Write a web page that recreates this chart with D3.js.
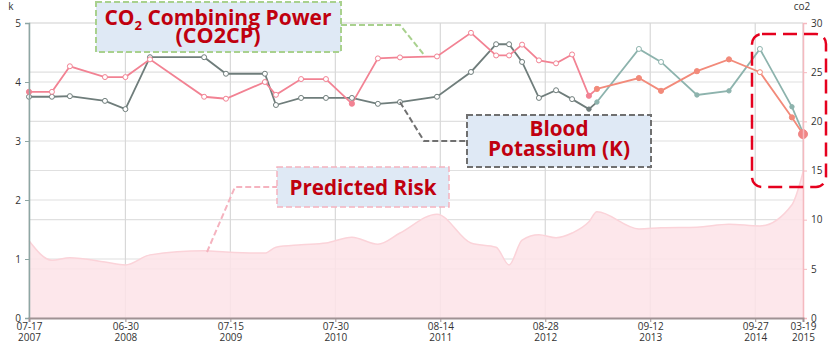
<!DOCTYPE html>
<html>
<head>
<meta charset="utf-8">
<script src="https://cdn.jsdelivr.net/npm/d3@7"></script>
<style>
  body { margin: 0; background: #fff; }
  svg { display: block; font-family: 'Open Sans', 'Noto Sans', sans-serif; }
</style>
</head>
<body>
<svg id="chart" width="830" height="344"></svg>
<script>
// DATA

var dates = ["2007-07-17","2007-10-08","2007-12-12","2008-04-17","2008-06-30","2008-09-27",
  "2009-04-11","2009-06-29","2009-11-17","2009-12-27","2010-03-28","2010-06-26","2010-09-28",
  "2010-12-31","2011-03-21","2011-08-02","2011-12-03","2012-03-03","2012-04-19","2012-06-05",
  "2012-08-05","2012-10-06","2012-12-03","2013-02-02","2013-03-03","2013-08-02","2013-10-21",
  "2014-02-28","2014-06-24","2014-10-14","2015-02-07","2015-03-19"];

var kValues = [3.75,3.75,3.76,3.68,3.54,4.42,4.42,4.14,4.14,3.61,3.73,3.73,3.73,3.63,3.66,3.75,
  4.17,4.64,4.64,4.34,3.73,3.86,3.71,3.54,3.66,4.56,4.34,3.78,3.85,4.56,3.58,3.14];

var co2Values = [23.0,23.0,25.6,24.5,24.5,26.3,22.5,22.3,24.0,22.7,24.3,24.3,21.8,26.4,26.5,26.6,
  29.0,26.7,26.7,27.8,26.2,25.9,26.8,22.6,23.3,24.4,23.1,25.1,26.3,25.0,20.4,18.7];

// predicted risk, drawn against the k axis
var riskValues = [1.31,0.98,1.02,0.95,0.90,1.07,1.14,1.12,1.10,1.20,1.24,1.27,1.37,1.25,1.44,1.76,
  1.27,1.20,0.90,1.32,1.41,1.36,1.44,1.63,1.80,1.51,1.53,1.54,1.59,1.56,1.92,2.47];

var tickDates = ["2007-07-17","2008-06-30","2009-07-15","2010-07-30","2011-08-14",
  "2012-08-28","2013-09-12","2014-09-27","2015-03-19"];

var kTicks = [0,1,2,3,4,5];
var co2Ticks = [0,5,10,15,20,25,30];

// SETUP

var parse = d3.utcParse("%Y-%m-%d");
var svg = d3.select("#chart");

var plotLeft = 29, plotRight = 803, plotTop = 23, plotBottom = 318;
var splitIndex = 24; // colours change from here on

var x = d3.scaleUtc()
  .domain([parse(dates[0]), parse(dates[dates.length - 1])])
  .range([plotLeft, plotRight]);
var yK = d3.scaleLinear().domain([0, 5]).range([plotBottom, plotTop]);
var yCo2 = d3.scaleLinear().domain([0, 30]).range([plotBottom, plotTop]);

var points = dates.map(function(d, i){
  return { date: parse(d), k: kValues[i], co2: co2Values[i], risk: riskValues[i], i: i };
});

// GRID

var grid = svg.append("g");
kTicks.forEach(function(t){
  grid.append("line").attr("x1", plotLeft).attr("x2", plotRight)
    .attr("y1", yK(t)).attr("y2", yK(t))
    .attr("stroke", "#e0e0e0").attr("stroke-width", 1.2);
});
co2Ticks.forEach(function(t){
  grid.append("line").attr("x1", plotLeft).attr("x2", plotRight)
    .attr("y1", yCo2(t)).attr("y2", yCo2(t))
    .attr("stroke", "#e0e0e0").attr("stroke-width", 1.2);
});
tickDates.forEach(function(t){
  grid.append("line").attr("x1", x(parse(t))).attr("x2", x(parse(t)))
    .attr("y1", plotTop).attr("y2", plotBottom)
    .attr("stroke", "#d8d8d8").attr("stroke-width", 1.2);
});

// RISK AREA

var area = d3.area()
  .x(function(d){ return x(d.date); })
  .y0(plotBottom)
  .y1(function(d){ return yK(d.risk); })
  .curve(d3.curveMonotoneX);

svg.append("path")
  .datum(points)
  .attr("d", area)
  .attr("fill", "#fde3e8")
  .attr("fill-opacity", 0.85);

svg.append("path")
  .datum(points)
  .attr("d", area.lineY1())
  .attr("fill", "none")
  .attr("stroke", "#fbd3d9")
  .attr("stroke-width", 1.5);

// LINES

var kLine = d3.line().x(function(d){ return x(d.date); }).y(function(d){ return yK(d.k); });
var co2Line = d3.line().x(function(d){ return x(d.date); }).y(function(d){ return yCo2(d.co2); });

var early = points.slice(0, splitIndex + 1);
var late = points.slice(splitIndex);

svg.append("path").datum(early).attr("d", kLine)
  .attr("fill", "none").attr("stroke", "#6f7d7b").attr("stroke-width", 1.8);
svg.append("path").datum(late).attr("d", kLine)
  .attr("fill", "none").attr("stroke", "#8db3ad").attr("stroke-width", 1.8);
svg.append("path").datum(early).attr("d", co2Line)
  .attr("fill", "none").attr("stroke", "#f28293").attr("stroke-width", 1.8);
svg.append("path").datum(late).attr("d", co2Line)
  .attr("fill", "none").attr("stroke", "#f28a7a").attr("stroke-width", 1.8);

// MARKERS

var co2Filled = [0, 12, 23, 24, 25, 26, 27, 28, 30];
var kFilled = [23, 24, 27, 28, 30];

var kColor = function(i){ return i < splitIndex ? "#6f7d7b" : "#8db3ad"; };
var co2Color = function(i){ return i < splitIndex ? "#f28293" : "#f28a7a"; };

svg.append("g").selectAll("circle")
  .data(points.slice(0, points.length - 1))
  .enter()
  .append("circle")
  .attr("cx", function(d){ return x(d.date); })
  .attr("cy", function(d){ return yK(d.k); })
  .attr("r", function(d){ return kFilled.indexOf(d.i) >= 0 ? 2.2 : 2.5; })
  .attr("fill", function(d){ return kFilled.indexOf(d.i) >= 0 ? kColor(d.i) : "#fff"; })
  .attr("stroke", function(d){ return kColor(d.i); })
  .attr("stroke-width", 1);

svg.append("g").selectAll("circle")
  .data(points)
  .enter()
  .append("circle")
  .attr("cx", function(d){ return x(d.date); })
  .attr("cy", function(d){ return yCo2(d.co2); })
  .attr("r", function(d){
    if (d.i === points.length - 1) return 4.5;
    return co2Filled.indexOf(d.i) >= 0 ? 2.6 : 2.5;
  })
  .attr("fill", function(d){
    if (d.i === points.length - 1) return "#f08585";
    return co2Filled.indexOf(d.i) >= 0 ? co2Color(d.i) : "#fff";
  })
  .attr("stroke", function(d){ return d.i === points.length - 1 ? "#f08585" : co2Color(d.i); })
  .attr("stroke-width", 1);

// AXES

var leftAxis = svg.append("g")
  .attr("transform", "translate(" + plotLeft + ",0)")
  .call(d3.axisLeft(yK).tickValues(kTicks).tickSize(4).tickPadding(4).tickFormat(d3.format("d")));
leftAxis.select(".domain").attr("stroke", "#8ea6a4").attr("stroke-width", 1.5);
leftAxis.selectAll(".tick line").attr("stroke", "#8ea6a4");

var rightAxis = svg.append("g")
  .attr("transform", "translate(" + plotRight + ",0)")
  .call(d3.axisRight(yCo2).tickValues(co2Ticks).tickSize(4).tickPadding(4).tickFormat(d3.format("d")));
rightAxis.select(".domain").attr("stroke", "#f5b9bf").attr("stroke-width", 1.5);
rightAxis.selectAll(".tick line").attr("stroke", "#f5b9bf");

var bottomAxis = svg.append("g")
  .attr("transform", "translate(0," + plotBottom + ")")
  .call(d3.axisBottom(x).tickValues(tickDates.map(parse)).tickSize(4).tickPadding(1).tickFormat(""));
bottomAxis.select(".domain").attr("stroke", "#a09294").attr("stroke-width", 2);
bottomAxis.selectAll(".tick line").attr("stroke", "#a09294");

bottomAxis.selectAll(".tick").each(function(d){
  var t = d3.select(this).select("text");
  t.append("tspan").attr("x", 0).attr("dy", "0.71em").text(d3.utcFormat("%m-%d")(d));
  t.append("tspan").attr("x", 0).attr("dy", "1.1em").text(d3.utcFormat("%Y")(d));
});

svg.selectAll(".tick text")
  .attr("fill", "#333")
  .style("font-size", "10px")
  .style("font-family", "'Open Sans', sans-serif");

svg.append("text").attr("x", 11).attr("y", 10).attr("text-anchor", "middle")
  .style("font-size", "10px").attr("fill", "#333").text("k");
svg.append("text").attr("x", 802).attr("y", 10).attr("text-anchor", "middle")
  .style("font-size", "10px").attr("fill", "#333").text("co2");

// ANNOTATIONS

var noteFill = "#dfe9f5";
var noteText = "#c0000f";

var box = function(x0, y0, w, h, stroke, width){
  svg.append("rect")
    .attr("x", x0).attr("y", y0).attr("width", w).attr("height", h)
    .attr("fill", noteFill)
    .attr("stroke", stroke)
    .attr("stroke-width", width)
    .attr("stroke-dasharray", "6,3");
};

var label = function(cx, baseline, str, len, size){
  return svg.append("text")
    .attr("x", cx).attr("y", baseline)
    .attr("text-anchor", "middle")
    .attr("fill", noteText)
    .attr("textLength", len)
    .attr("lengthAdjust", "spacingAndGlyphs")
    .style("font-size", size + "px")
    .style("font-weight", "bold")
    .text(str);
};

var leader = function(pts, stroke){
  svg.append("path")
    .attr("d", d3.line()(pts))
    .attr("fill", "none")
    .attr("stroke", stroke)
    .attr("stroke-width", 2)
    .attr("stroke-dasharray", "6,3");
};

// CO2CP
leader([[341, 25], [400, 25], [425, 56]], "#a9d18e");
box(96, 2, 245, 50, "#a9d18e", 2);
var co2Label = svg.append("text")
  .attr("x", 218).attr("y", 25)
  .attr("text-anchor", "middle")
  .attr("fill", noteText)
  .style("font-size", "21px")
  .style("font-weight", "bold");
co2Label.append("tspan").text("CO");
co2Label.append("tspan").attr("dy", 5).style("font-size", "13px").text("2");
co2Label.append("tspan").attr("dy", -5).text(" Combining Power");
label(218, 43, "(CO2CP)", 85, 21);

// Potassium
leader([[x(parse(dates[14])), yK(kValues[14])], [424, 141], [467, 141]], "#707070");
box(467, 115, 184, 52, "#707070", 2);
label(559, 136, "Blood", 59, 21);
label(559, 156, "Potassium (K)", 142, 21);

// Predicted Risk
leader([[207, 252], [235, 187], [277, 187]], "#f5b3bf");
box(277, 167, 172, 40, "#f5b3bf", 1.5);
label(363, 195, "Predicted Risk", 147, 21);

// focus box
svg.append("rect")
  .attr("x", 752).attr("y", 34).attr("width", 74).attr("height", 153)
  .attr("rx", 10).attr("ry", 10)
  .attr("fill", "none")
  .attr("stroke", "#e5001e")
  .attr("stroke-width", 2.5)
  .attr("stroke-dasharray", "14,7");
</script>
</body>
</html>
